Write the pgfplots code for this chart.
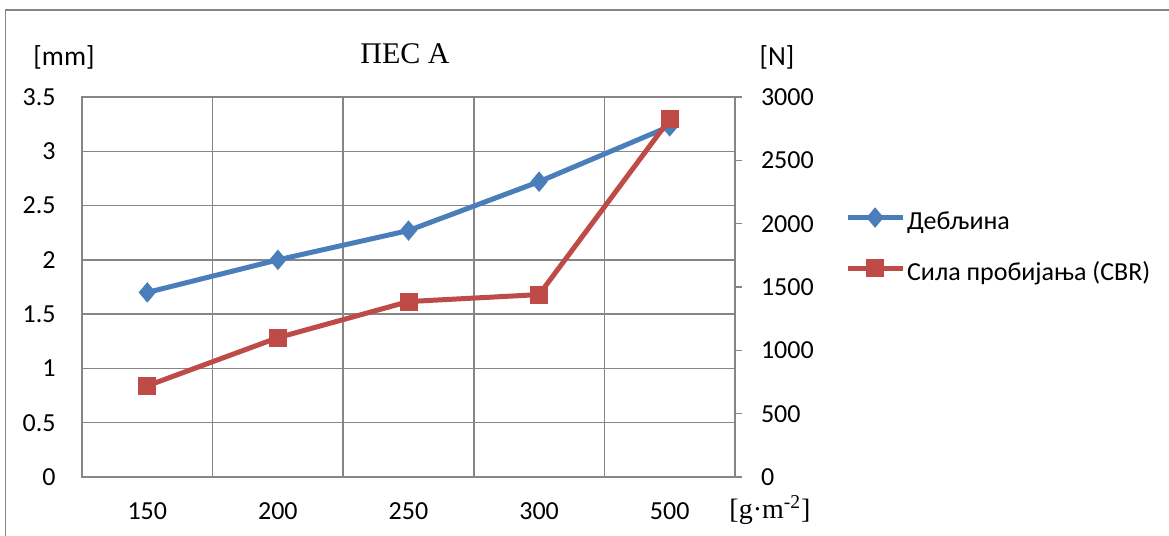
\documentclass[border=0pt]{standalone}
\usepackage{fontspec}
\setmainfont{Carlito}
\newfontfamily\timesfont{Liberation Serif}
\usepackage{pgfplots}
\pgfplotsset{compat=1.18}
\definecolor{sblue}{HTML}{4A7EBB}
\definecolor{sred}{HTML}{BE4B48}
\definecolor{gridgray}{HTML}{868686}
\begin{document}
\begin{tikzpicture}[x=1pt,y=1pt]
\useasboundingbox (0,0) rectangle (584.5,268);
\draw[gridgray, line width=0.75pt] (2.75,0) -- (2.75,263) -- (584.5,263);
\begin{axis}[
  at={(41pt,29.5pt)}, anchor=south west, scale only axis,
  width=326.5pt, height=190pt,
  xmin=-0.5, xmax=4.5, ymin=0, ymax=3.5,
  xtick={0,1,2,3,4}, xticklabels={150,200,250,300,500},
  minor xtick={0.5,1.5,2.5,3.5}, xminorgrids,
  ytick={0,0.5,1,1.5,2,2.5,3,3.5}, ymajorgrids,
  yticklabels={0,0.5,1,1.5,2,2.5,3,3.5},
  major tick length=0pt, minor tick length=0pt,
  axis line style={gridgray, line width=0.75pt},
  grid style={gridgray, line width=0.75pt},
  minor grid style={gridgray, line width=0.75pt},
  tick label style={font=\fontsize{13}{15}\selectfont},
  /pgf/number format/assume math mode=true,
  yticklabel style={inner xsep=0pt, xshift=-13pt},
  xticklabel style={inner ysep=0pt, yshift=-12.6pt},
  clip=false,
]
\addplot[sblue, line width=2.5pt, mark=diamond*, mark size=4.75pt,
  mark options={solid, line width=0.5pt, xscale=1.12}]
  coordinates {(0,1.70)(1,2.00)(2,2.27)(3,2.72)(4,3.23)};
\end{axis}
\begin{axis}[
  at={(41pt,29.5pt)}, anchor=south west, scale only axis,
  width=326.5pt, height=190pt,
  xmin=-0.5, xmax=4.5, ymin=0, ymax=3000,
  axis x line=none, axis y line*=right,
  ytick={0,500,1000,1500,2000,2500,3000},
  yticklabels={0,500,1000,1500,2000,2500,3000},
  tick align=outside, major tick length=3.5pt,
  major tick style={gridgray, line width=0.75pt},
  axis line style={gridgray, line width=0.75pt},
  tick label style={font=\fontsize{13}{15}\selectfont},
  /pgf/number format/assume math mode=true,
  yticklabel style={inner xsep=0pt, xshift=9.3pt},
  clip=false,
  legend style={at={(1.168,0.605)}, anchor=west, draw=none, fill=none,
    inner sep=0pt, row sep=12pt, column sep=0pt, font=\fontsize{13}{15}\selectfont,
    nodes={inner xsep=1pt, inner ysep=0pt, text height=9pt, text depth=3pt}},
  legend cell align=left,
  legend image code/.code={\draw[mark repeat=2,mark phase=2,#1] plot coordinates {(0pt,3pt) (13.75pt,3pt) (27.5pt,3pt)};},
]
\addlegendimage{sblue, line width=2.5pt, mark=diamond*, mark size=4.75pt, mark options={solid, line width=0.5pt, xscale=1.12}}
\addlegendentry{Дебљина}
\addplot[sred, line width=2.5pt, mark=square*, mark size=4.25pt, mark options={solid, line width=0.5pt}]
  coordinates {(0,720)(1,1100)(2,1385)(3,1440)(4,2825)};
\addlegendentry{Сила пробијања (CBR)}
\end{axis}
\node[font=\timesfont\fontsize{15}{17}\selectfont] at (202.5,241) {ПЕС А};
\node[font=\fontsize{13.8}{16}\selectfont] at (32,239.5) {[mm]};
\node[font=\fontsize{13.8}{16}\selectfont] at (388.5,239.5) {[N]};
\node[font=\timesfont\fontsize{14}{16}\selectfont] at (385,13) {[g·m\textsuperscript{-2}]};
\end{tikzpicture}
\end{document}
